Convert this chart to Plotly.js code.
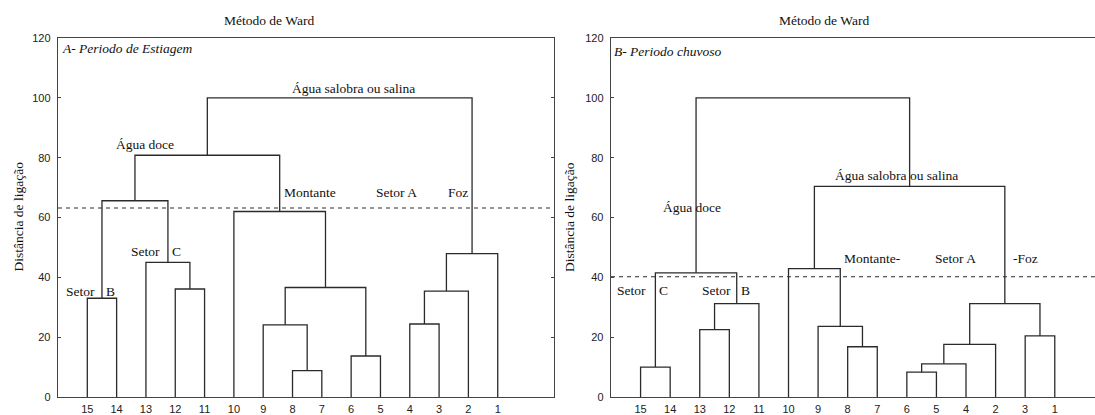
<!DOCTYPE html>
<html>
<head>
<meta charset="utf-8">
<script src="https://cdn.plot.ly/plotly-3.0.1.min.js"></script>
<style>html,body{margin:0;padding:0;background:#fff;}#chart{width:1095px;height:415px;}</style>
</head>
<body>
<div id="chart"></div>
<script>
// ---------- DATA ----------
// Panel A (Período de Estiagem)
const leavesA = ['15','14','13','12','11','10','9','8','7','6','5','4','3','2','1'];
const mergeIdA    = ['a1','a2','a3','a4','a5','a6','a7','a8','a9','a10','a11','a12','a13','a14'];
const mergeLeftA  = ['15','12','13','a1','8','9','6','a6','10','4','a10','a11','a4','a13'];
const mergeRightA = ['14','11','a2','a3','7','a5','5','a7','a8','3','2','1','a9','a12'];
const mergeHeightA = [33.0, 36.1, 45.0, 65.6, 8.8, 24.1, 13.7, 36.6, 62.0, 24.4, 35.4, 47.9, 80.8, 100];
const cutA = 63.2;

// Panel B (Período chuvoso)
const leavesB = ['15','14','13','12','11','10','9','8','7','6','5','4','2','3','1'];
const mergeIdB    = ['b1','b2','b3','b4','b5','b6','b7','b8','b9','b10','b11','b12','b13','b14'];
const mergeLeftB  = ['15','13','b2','b1','8','9','10','6','b8','b9','3','b10','b7','b4'];
const mergeRightB = ['14','12','11','b3','7','b5','b6','5','4','2','1','b11','b12','b13'];
const mergeHeightB = [10.0, 22.5, 31.2, 41.5, 16.8, 23.6, 42.9, 8.3, 11.1, 17.6, 20.4, 31.2, 70.4, 100];
const cutB = 40.2;

const yTicks = [0, 20, 40, 60, 80, 100, 120];

// ---------- BUILD DENDROGRAM SEGMENTS ----------
function buildSegments(leaves, ids, lefts, rights, heights) {
  const pos = {}, hgt = {};
  leaves.forEach((l, i) => { pos[l] = i + 1; hgt[l] = 0; });
  const xs = [], ys = [];
  ids.forEach((id, k) => {
    const a = lefts[k], b = rights[k], h = heights[k];
    xs.push(pos[a], pos[a], pos[b], pos[b], null);
    ys.push(hgt[a], h, h, hgt[b], null);
    pos[id] = (pos[a] + pos[b]) / 2;
    hgt[id] = h;
  });
  return {xs, ys};
}
const segA = buildSegments(leavesA, mergeIdA, mergeLeftA, mergeRightA, mergeHeightA);
const segB = buildSegments(leavesB, mergeIdB, mergeLeftB, mergeRightB, mergeHeightB);

const lineCol = '#2b2b2b';
const W = 1095, H = 415;
const px = x => x / W;
const py = y => 1 - y / H;

const xRangeA = [0, 16.92];
const xRangeB = [0, 16.36];

const traces = [
  {x: segA.xs, y: segA.ys, xaxis: 'x', yaxis: 'y', mode: 'lines', line: {color: lineCol, width: 1.3}, hoverinfo: 'skip', showlegend: false},
  {x: xRangeA, y: [cutA, cutA], xaxis: 'x', yaxis: 'y', mode: 'lines', line: {color: lineCol, width: 1.1, dash: '4px,4px'}, hoverinfo: 'skip', showlegend: false},
  {x: segB.xs, y: segB.ys, xaxis: 'x2', yaxis: 'y2', mode: 'lines', line: {color: lineCol, width: 1.3}, hoverinfo: 'skip', showlegend: false},
  {x: xRangeB, y: [cutB, cutB], xaxis: 'x2', yaxis: 'y2', mode: 'lines', line: {color: lineCol, width: 1.1, dash: '4px,4px'}, hoverinfo: 'skip', showlegend: false}
];

const tickFont = {family: 'Liberation Sans, Arial, sans-serif', size: 11, color: '#222'};
const serif = 'Liberation Serif, Times New Roman, serif';
const yDom = [py(397), py(38)];

function xAxis(domain, range, leaves, anchor) {
  return {domain, range, anchor, showgrid: false, zeroline: false, showline: true, linecolor: '#444', linewidth: 1.3,
    mirror: true, ticks: '', tickvals: leaves.map((l, i) => i + 1), ticktext: leaves, tickfont: tickFont,
    ticklabelstandoff: 1, fixedrange: true};
}
function yAxis(domain, anchor, mirror) {
  return {domain, range: [0, 120], anchor, showgrid: false, zeroline: false, showline: true, linecolor: '#444', linewidth: 1.3,
    mirror, ticks: 'inside', ticklen: 3, tickcolor: '#444', tickvals: yTicks, tickfont: tickFont, ticklabelstandoff: 4, fixedrange: true};
}

function ann(text, x, y, opts) {
  return Object.assign({text, x: px(x), y: py(y), xref: 'paper', yref: 'paper', showarrow: false,
    xanchor: 'center', yanchor: 'middle', font: {family: serif, size: 13.5, color: '#111'}}, opts || {});
}
const italic = t => '<i>' + t + '</i>';

const annotations = [
  ann('Método de Ward', 269, 20.5),
  ann('Método de Ward', 824, 20.5),
  ann('Distância de ligação', 17.5, 217, {textangle: -90}),
  ann('Distância de ligação', 569, 217, {textangle: -90}),
  ann(italic('A- Periodo de Estiagem'), 60, 48.5, {xanchor: 'left'}),
  ann(italic('B- Periodo chuvoso'), 612, 52, {xanchor: 'left'}),
  // Panel A labels
  ann('Água salobra ou salina', 353, 88.3),
  ann('Água doce', 144.8, 144),
  ann('Montante', 310, 192.3),
  ann('Setor A', 396, 192.3),
  ann('Foz', 458, 192.3),
  ann('Setor', 145.8, 251.7),
  ann('C', 176, 251.7),
  ann('Setor', 80.8, 291),
  ann('B', 110.2, 291),
  // Panel B labels
  ann('Água salobra ou salina', 896, 175),
  ann('Água doce', 691.7, 207.5),
  ann('Montante-', 873, 258.3),
  ann('Setor A', 955.5, 258.3),
  ann('-Foz', 1025, 258.3),
  ann('Setor', 631, 290.7),
  ann('C', 663.3, 290.7),
  ann('Setor', 716.5, 290.7),
  ann('B', 745, 290.7)
];

const layout = {
  width: W, height: H,
  margin: {l: 0, r: 0, t: 0, b: 0},
  paper_bgcolor: '#fff', plot_bgcolor: 'rgba(0,0,0,0)',
  showlegend: false,
  xaxis: xAxis([px(58), px(554)], xRangeA, leavesA, 'y'),
  yaxis: yAxis(yDom, 'x', 'ticks'),
  xaxis2: xAxis([px(611), 1], xRangeB, leavesB, 'y2'),
  yaxis2: yAxis(yDom, 'x2', false),
  annotations
};

Plotly.newPlot('chart', traces, layout, {displayModeBar: false, staticPlot: true});
</script>
</body>
</html>
